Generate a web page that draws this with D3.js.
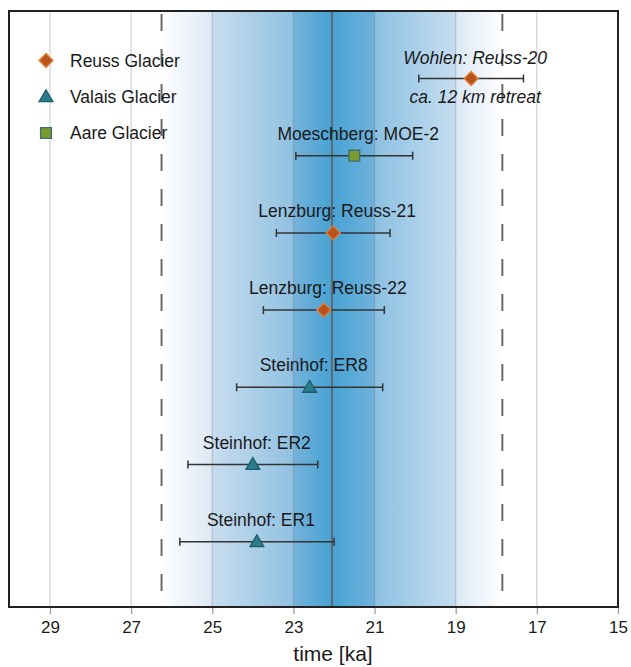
<!DOCTYPE html>
<html>
<head>
<meta charset="utf-8">
<script src="https://cdn.jsdelivr.net/npm/d3@7/dist/d3.min.js"></script>
<style>
  html, body { margin: 0; padding: 0; background: #fff; }
  svg { display: block; font-family: "Liberation Sans", Arial, sans-serif; }
</style>
</head>
<body>
<svg id="chart" width="631" height="667"></svg>
<script>
// Exposure ages (ka) with 1-sigma uncertainties, top row to bottom row
const samples = [
  "Wohlen: Reuss-20",
  "Moeschberg: MOE-2",
  "Lenzburg: Reuss-21",
  "Lenzburg: Reuss-22",
  "Steinhof: ER8",
  "Steinhof: ER2",
  "Steinhof: ER1"
];
const ages     = [18.62, 21.50, 22.02, 22.25, 22.60, 24.00, 23.90];
const errors   = [1.29, 1.44, 1.40, 1.49, 1.80, 1.60, 1.90];
const glaciers = ["Reuss", "Aare", "Reuss", "Reuss", "Valais", "Valais", "Valais"];

const legendGlaciers = ["Reuss", "Valais", "Aare"];
const legendLabels   = ["Reuss Glacier", "Valais Glacier", "Aare Glacier"];

// Mean age of the LGM maximum and the half-width of its uncertainty band (ka)
const meanAge = 22.05;
const bandHalfWidth = 4.2;

const tickValues = [29, 27, 25, 23, 21, 19, 17, 15];
const gridValues = [29, 27, 25, 23, 21, 19, 17];
const xTitle = "time [ka]";
const retreatNote = "ca. 12 km retreat";

const svg = d3.select("#chart");
const plot = { left: 9, right: 618, top: 11, bottom: 607 };

const x = d3.scaleLinear().domain([30, 15]).range([plot.left + 0.4, plot.right]);
const y = d3.scalePoint().domain(samples).range([78.5, 541.7]);

const style = {
  Reuss:  { symbol: d3.symbolSquare,   size: 98,  rotate: 45, fill: "#b8531b", stroke: "#e4803a", dy: 0 },
  Valais: { symbol: d3.symbolTriangle, size: 82,  rotate: 0,  fill: "#2b7d8d", stroke: "#1d5d69", dy: 1 },
  Aare:   { symbol: d3.symbolSquare,   size: 118, rotate: 0,  fill: "#7a9a2d", stroke: "#3b6d74", dy: 0 }
};

// Gradient for the LGM band: white at the outer limits, deepest blue at the mean
const defs = svg.append("defs");
const lo = meanAge + bandHalfWidth, hi = meanAge - bandHalfWidth;
const grad = defs.append("linearGradient")
  .attr("id", "lgmBand")
  .attr("gradientUnits", "userSpaceOnUse")
  .attr("x1", x(lo)).attr("x2", x(hi))
  .attr("y1", 0).attr("y2", 0);
const stops = [
  [lo, "#ffffff"],
  [25.0, "#dce8f4"], [25.0, "#c8ddef"],
  [23.0, "#90c1e1"], [23.0, "#76b3db"],
  [meanAge, "#46a2d3"],
  [21.0, "#70b2db"], [21.0, "#8cc1e2"],
  [19.0, "#c6ddef"], [19.0, "#dbe8f5"],
  [hi, "#ffffff"]
];
const span = x(hi) - x(lo);
grad.selectAll("stop").data(stops).join("stop")
  .attr("offset", d => ((x(d[0]) - x(lo)) / span))
  .attr("stop-color", d => d[1]);

svg.append("rect")
  .attr("x", x(lo)).attr("y", plot.top)
  .attr("width", span).attr("height", plot.bottom - plot.top)
  .attr("fill", "url(#lgmBand)");

// Vertical grid, translucent so it tints the band rather than cutting it
svg.append("g").selectAll("line").data(gridValues).join("line")
  .attr("x1", d => x(d)).attr("x2", d => x(d))
  .attr("y1", plot.top).attr("y2", plot.bottom)
  .attr("stroke", "#8a8f96").attr("stroke-opacity", 0.38).attr("stroke-width", 1.3);

// Band limits (dashed) and mean (solid)
svg.append("g").selectAll("line").data([lo, hi]).join("line")
  .attr("x1", d => x(d)).attr("x2", d => x(d))
  .attr("y1", plot.top).attr("y2", plot.bottom)
  .attr("stroke", "#6a6a6a").attr("stroke-width", 2)
  .attr("stroke-dasharray", "17,18").attr("stroke-dashoffset", -3);

svg.append("line")
  .attr("x1", x(meanAge)).attr("x2", x(meanAge))
  .attr("y1", plot.top).attr("y2", plot.bottom)
  .attr("stroke", "#626870").attr("stroke-width", 2);

// x axis
const axis = d3.axisBottom(x).tickValues(tickValues).tickSize(7).tickFormat(d3.format("d"));
const gx = svg.append("g").attr("transform", `translate(0,${plot.bottom})`).call(axis);
gx.select(".domain").remove();
gx.selectAll(".tick line").attr("stroke", "#9a9a9a").attr("stroke-width", 1.2);
gx.selectAll(".tick text")
  .attr("y", 14).attr("dy", "0.71em")
  .attr("fill", "#1a1a1a")
  .style("font-size", "17px")
  .style("font-family", "'Liberation Sans', Arial, sans-serif");

svg.append("text")
  .attr("x", 333).attr("y", 661)
  .attr("text-anchor", "middle")
  .attr("fill", "#1a1a1a")
  .style("font-size", "21px")
  .text(xTitle);

// Frame
svg.append("rect")
  .attr("x", plot.left).attr("y", plot.top)
  .attr("width", plot.right - plot.left).attr("height", plot.bottom - plot.top)
  .attr("fill", "none").attr("stroke", "#222").attr("stroke-width", 2);

// Samples
const rows = samples.map((s, i) => ({ name: s, age: ages[i], err: errors[i], glacier: glaciers[i] }));
const g = svg.append("g").selectAll("g").data(rows).join("g");

g.append("line")
  .attr("x1", d => x(d.age + d.err)).attr("x2", d => x(d.age - d.err))
  .attr("y1", d => y(d.name)).attr("y2", d => y(d.name))
  .attr("stroke", "#333").attr("stroke-width", 1.5);
g.selectAll("line.cap").data(d => [[d.age + d.err, d.name], [d.age - d.err, d.name]]).join("line")
  .attr("class", "cap")
  .attr("x1", c => x(c[0])).attr("x2", c => x(c[0]))
  .attr("y1", c => y(c[1]) - 4).attr("y2", c => y(c[1]) + 4)
  .attr("stroke", "#333").attr("stroke-width", 1.5);

g.append("path")
  .attr("d", d => d3.symbol(style[d.glacier].symbol, style[d.glacier].size)())
  .attr("transform", d => `translate(${x(d.age)},${y(d.name) + style[d.glacier].dy}) rotate(${style[d.glacier].rotate})`)
  .attr("fill", d => style[d.glacier].fill)
  .attr("stroke", d => style[d.glacier].stroke)
  .attr("stroke-width", 1.3);

g.append("text")
  .attr("x", d => x(d.age) + 4)
  .attr("y", (d, i) => y(d.name) - (i === 0 ? 14.5 : 16))
  .attr("text-anchor", "middle")
  .attr("fill", "#1a1a1a")
  .style("font-size", "17.5px")
  .style("font-style", (d, i) => i === 0 ? "italic" : "normal")
  .text(d => d.name);

svg.append("text")
  .attr("x", x(ages[0]) + 4)
  .attr("y", y(samples[0]) + 24.5)
  .attr("text-anchor", "middle")
  .attr("fill", "#1a1a1a")
  .style("font-size", "17.5px")
  .style("font-style", "italic")
  .text(retreatNote);

// Legend
const legendY = d3.scalePoint().domain(legendGlaciers).range([60.5, 133]);
const lg = svg.append("g").selectAll("g").data(legendGlaciers).join("g");
lg.append("path")
  .attr("d", d => d3.symbol(style[d].symbol, style[d].size)())
  .attr("transform", d => `translate(46,${legendY(d) + style[d].dy}) rotate(${style[d].rotate})`)
  .attr("fill", d => style[d].fill)
  .attr("stroke", d => style[d].stroke)
  .attr("stroke-width", 1.3);
lg.append("text")
  .attr("x", 70)
  .attr("y", d => legendY(d) + 6.3)
  .attr("fill", "#1a1a1a")
  .style("font-size", "17.5px")
  .text((d, i) => legendLabels[i]);
</script>
</body>
</html>
